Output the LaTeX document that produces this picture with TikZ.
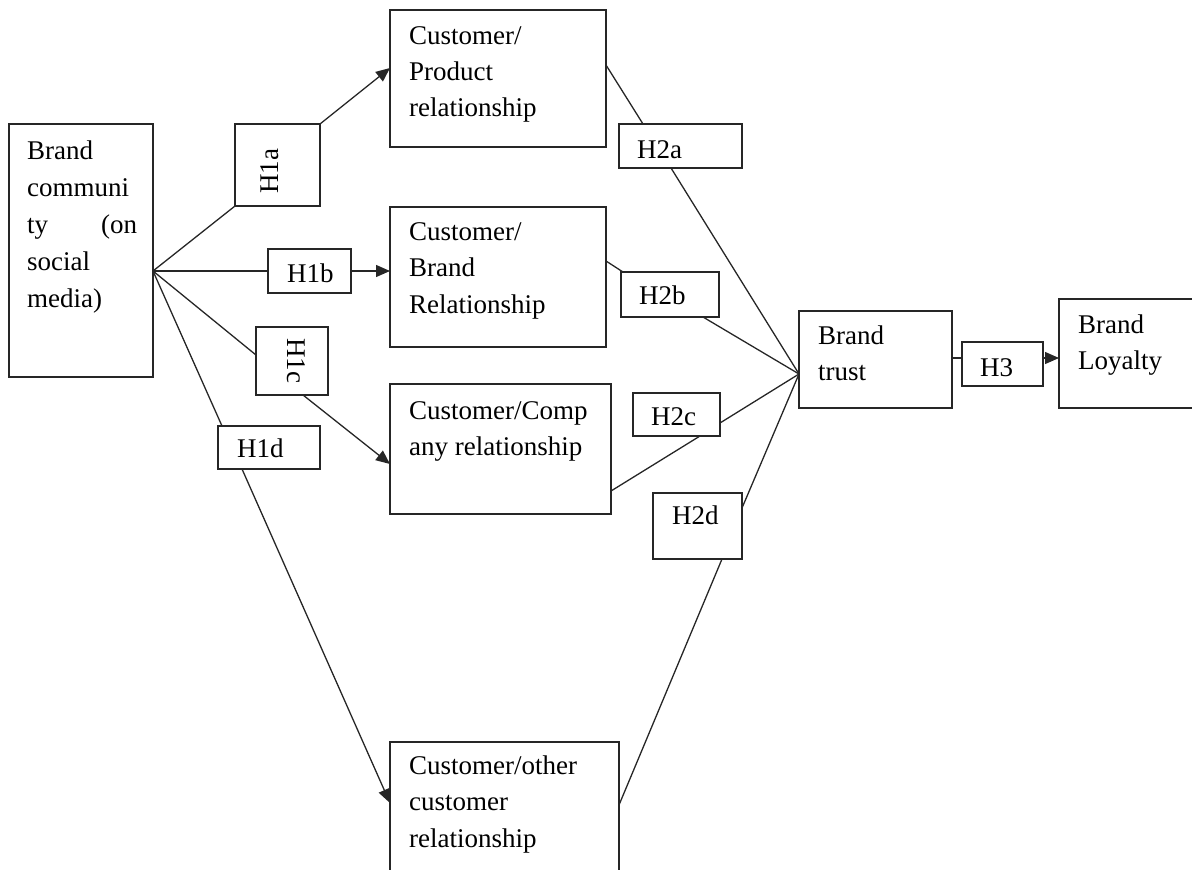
\documentclass[tikz,border=0pt]{standalone}
\usepackage{fontspec}
\setmainfont{Liberation Serif}
\usetikzlibrary{arrows.meta,calc}
\newcommand{\boxtext}[2]{\parbox[t]{#1}{\raggedright #2}}
\tikzset{
  box/.style={draw=black!85, line width=1.6pt, rectangle, inner sep=0pt, outer sep=0pt, anchor=north west},
  lbl/.style={font=\fontsize{27}{36.5}\selectfont, inner sep=0pt, anchor=base west},
  rlbl/.style={font=\fontsize{27}{36.5}\selectfont, inner sep=0pt, anchor=center},
  link/.style={draw=black!85, line width=1.3pt},
  arr/.style={link, -{Triangle[length=14pt,width=12pt]}},
}
\begin{document}
\begin{tikzpicture}[x=1pt,y=-1pt]
\useasboundingbox (0,0) rectangle (1192,870);
% main boxes
\node[box, minimum width=144pt, minimum height=253pt] (bc) at (9,124) {};
\node[box, minimum width=216pt, minimum height=137pt] (cp) at (390,10) {};
\node[box, minimum width=216pt, minimum height=140pt] (cb) at (390,207) {};
\node[box, minimum width=221pt, minimum height=130pt] (cc) at (390,384) {};
\node[box, minimum width=229pt, minimum height=150pt] (co) at (390,742) {};
\node[box, minimum width=153pt, minimum height=97pt] (bt) at (799,311) {};
\node[box, minimum width=150pt, minimum height=109pt] (bl) at (1059,299) {};
% hypothesis boxes
\node[box, minimum width=85pt, minimum height=82pt] (h1a) at (235,124) {};
\node[box, minimum width=83pt, minimum height=44pt] (h1b) at (268,249) {};
\node[box, minimum width=72pt, minimum height=68pt] (h1c) at (256,327) {};
\node[box, minimum width=102pt, minimum height=43pt] (h1d) at (218,426) {};
\node[box, minimum width=123pt, minimum height=44pt] (h2a) at (619,124) {};
\node[box, minimum width=98pt, minimum height=45pt] (h2b) at (621,272) {};
\node[box, minimum width=87pt, minimum height=43pt] (h2c) at (633,393) {};
\node[box, minimum width=89pt, minimum height=66pt] (h2d) at (653,493) {};
\node[box, minimum width=81pt, minimum height=44pt] (h3) at (962,342) {};
% texts
\node[lbl, font=\fontsize{27}{37}\selectfont] (tbc) at (27,159) {\boxtext{110pt}{Brand\\communi\\ty \hfill (on\\social\\media)}};
\node[lbl] (tcp) at (409,44) {\boxtext{200pt}{Customer/\\Product\\relationship}};
\node[lbl] (tcb) at (409,240) {\boxtext{200pt}{Customer/\\Brand\\Relationship}};
\node[lbl] (tcc) at (409,419) {\boxtext{210pt}{Customer/Comp\\any relationship}};
\node[lbl] (tco) at (409,774) {\boxtext{210pt}{Customer/other\\customer\\relationship}};
\node[lbl] (tbt) at (818,344) {\boxtext{130pt}{Brand\\trust}};
\node[lbl] (tbl) at (1078,333) {\boxtext{110pt}{Brand\\Loyalty}};
\node[rlbl, rotate=90] (th1a) at (270,171.5) {H1a};
\node[lbl] (th1b) at (287,282) {H1b};
\node[rlbl, rotate=-90] (th1c) at (296,360.5) {H1c};
\node[lbl] (th1d) at (237,457) {H1d};
\node[lbl] (th2a) at (637,158) {H2a};
\node[lbl] (th2b) at (639,304) {H2b};
\node[lbl] (th2c) at (651,425) {H2c};
\node[lbl] (th2d) at (672,524) {H2d};
\node[lbl] (th3) at (980,376) {H3};
% hubs
\coordinate (bcout) at ($(bc.north east)+(0,147)$);
\coordinate (btin) at ($(bt.north west)+(0,63)$);
% H1 connectors
\draw[link] (bcout) -- (h1a.south west);
\draw[arr] (h1a.north east) -- ($(cp.north west)+(0,58)$);
\draw[link] (bcout) -- (h1b.west);
\draw[arr] (h1b.east) -- (cb.west |- h1b.east);
\draw[link] (bcout) -- ($(h1c.north west)+(0,28)$);
\draw[arr] ($(h1c.south west)+(47,0)$) -- ($(cc.north west)+(0,80)$);
\draw[link] (bcout) -- ($(h1d.north west)+(4,0)$);
\draw[arr] ($(h1d.south west)+(24,0)$) -- ($(co.north west)+(0,61)$);
% H2 connectors
\draw[link] ($(cp.north east)+(0,55)$) -- ($(h2a.north west)+(24,0)$);
\draw[link] ($(h2a.south west)+(52,0)$) -- (btin);
\draw[link] ($(cb.north east)+(0,54)$) -- ($(h2b.north west)+(2,0)$);
\draw[link] ($(h2b.south west)+(82,0)$) -- (btin);
\draw[link] ($(cc.north east)+(0,107)$) -- ($(h2c.south west)+(67,0)$);
\draw[link] ($(h2c.north east)+(0,30)$) -- (btin);
\draw[link] ($(co.north east)+(0,63)$) -- ($(h2d.south west)+(69,0)$);
\draw[link] ($(h2d.north east)+(0,15)$) -- (btin);
% H3 connectors
\draw[link] ($(bt.north east)+(0,47)$) -- ($(h3.north west)+(0,16)$);
\draw[arr] ($(h3.north east)+(0,16)$) -- ($(bl.north west)+(0,59)$);
\end{tikzpicture}
\end{document}
